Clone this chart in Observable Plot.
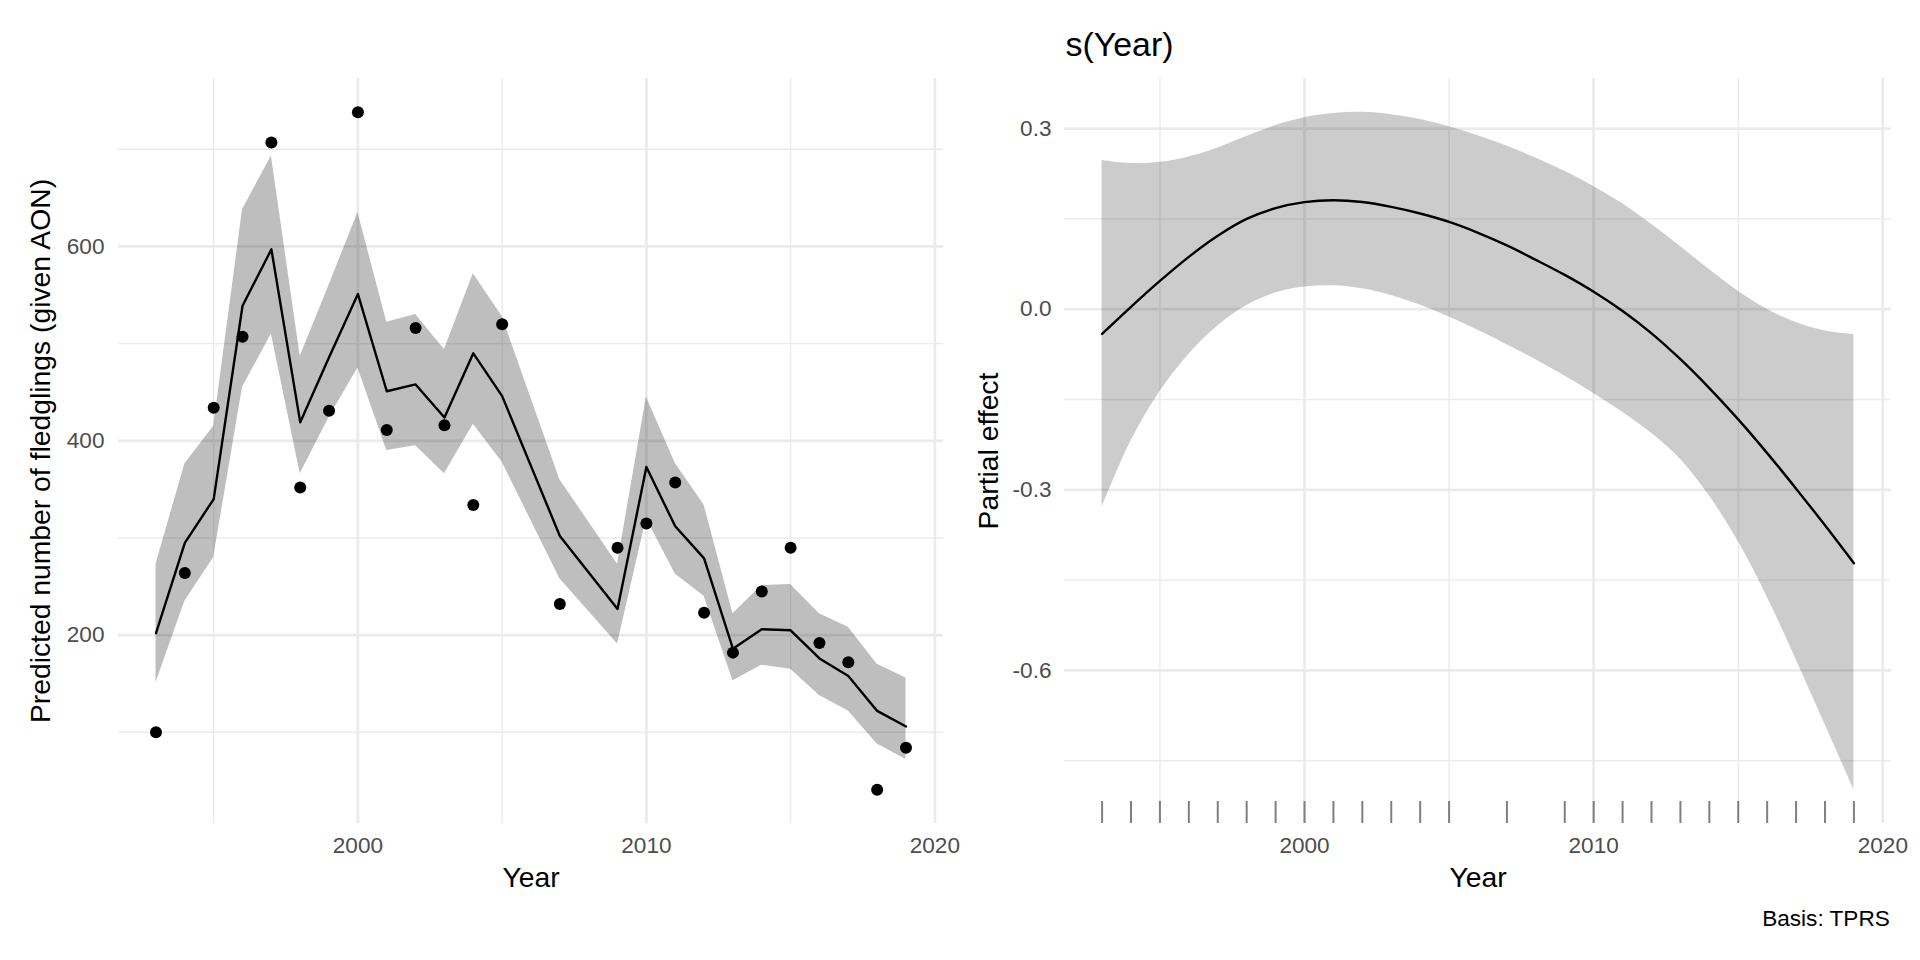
<!DOCTYPE html>
<html>
<head>
<meta charset="utf-8">
<script src="https://cdn.jsdelivr.net/npm/d3@7"></script>
<script src="https://cdn.jsdelivr.net/npm/@observablehq/plot@0.6"></script>
<style>
html, body { margin: 0; padding: 0; background: #ffffff; }
#chart { position: relative; width: 1920px; height: 960px; overflow: hidden; background: #ffffff; }
#chart svg { position: absolute; top: 0; }
</style>
</head>
<body>
<div id="chart"></div>
<script>
// ---------- Left panel: observed counts, fitted values and interval ----------
const years    = [1993, 1994, 1995, 1996, 1997, 1998, 1999, 2000, 2001, 2002, 2003, 2004, 2005, 2007, 2009, 2010, 2011, 2012, 2013, 2014, 2015, 2016, 2017, 2018, 2019];
const observed = [100, 264, 434, 507, 707, 352, 431, 738, 411, 516, 416, 334, 520, 232, 290, 315, 357, 223, 182, 245, 290, 192, 172, 41, 84];
const fitted   = [202, 295, 340, 539, 597, 419, 486, 551, 451, 458, 424, 490, 446, 302, 227, 373, 312, 279, 186, 206, 205, 176, 158, 122, 106];
const upper    = [273, 376, 415, 638, 693, 487, 560, 635, 522, 530, 494, 572, 528, 360, 273, 445, 377, 334, 222, 251, 252, 222, 208, 170, 156];
const lower    = [151, 235, 280, 455, 510, 366, 424, 475, 390, 395, 366, 417, 378, 258, 191, 320, 263, 240, 153, 169, 165, 138, 122, 88, 72];

// ---------- Right panel: smooth s(Year) partial effect ----------
const smoothYears = [1993, 1994, 1995, 1996, 1997, 1998, 1999, 2000, 2001, 2002, 2003, 2004, 2005, 2006, 2007, 2008, 2009, 2010, 2011, 2012, 2013, 2014, 2015, 2016, 2017, 2018, 2019];
const estimate    = [-0.041, 0.004, 0.047, 0.087, 0.122, 0.150, 0.168, 0.178, 0.181, 0.178, 0.170, 0.159, 0.145, 0.127, 0.106, 0.082, 0.057, 0.029, -0.003, -0.040, -0.083, -0.131, -0.183, -0.239, -0.298, -0.359, -0.422];
const upperCI     = [0.247, 0.242, 0.244, 0.253, 0.268, 0.287, 0.305, 0.318, 0.325, 0.327, 0.323, 0.315, 0.303, 0.288, 0.271, 0.251, 0.229, 0.204, 0.175, 0.141, 0.104, 0.066, 0.030, 0.000, -0.022, -0.036, -0.042];
const lowerCI     = [-0.329, -0.219, -0.137, -0.075, -0.028, 0.006, 0.027, 0.037, 0.039, 0.034, 0.023, 0.007, -0.013, -0.035, -0.059, -0.084, -0.111, -0.140, -0.171, -0.206, -0.249, -0.310, -0.386, -0.478, -0.582, -0.690, -0.798];

// ---------- Ticks and labels ----------
const xMajor = [2000, 2010, 2020];
const xMinor = [1995, 2005, 2015];
const leftMajorY = [200, 400, 600];
const leftMinorY = [100, 300, 500, 700];
const rightMajorY = [0.3, 0, -0.3, -0.6];
const rightMinorY = [0.15, -0.15, -0.45, -0.75];
const xTitle = "Year";
const leftYTitle = "Predicted number of fledglings (given AON)";
const rightYTitle = "Partial effect";
const rightTitle = "s(Year)";
const caption = "Basis: TPRS";

// ---------- Layout / style ----------
const FONT = '"Liberation Sans", Arial, Helvetica, sans-serif';
const GRID = "#EBEBEB";
const MARGIN_TOP = 78, MARGIN_BOTTOM = 137, SVG_H = 960;
const FRAME_H = SVG_H - MARGIN_TOP - MARGIN_BOTTOM;
const TICK_FONT = 22.6, AXIS_TITLE_FONT = 28.3, TITLE_FONT = 33.9;

function expand([lo, hi], f = 0.05) { const r = hi - lo; return [lo - f * r, hi + f * r]; }

const xDomain = expand(d3.extent(years));
const leftYDomain = expand([d3.min([...observed, ...lower]), d3.max([...observed, ...upper])]);
const rightYDomain = expand([d3.min(lowerCI), d3.max(upperCI)]);

const leftData = years.map((yr, i) => ({year: yr, obs: observed[i], fit: fitted[i], lo: lower[i], hi: upper[i]}));
const smoothData = smoothYears.map((yr, i) => ({year: yr, est: estimate[i], lo: lowerCI[i], hi: upperCI[i]}));

const baseStyle = {fontFamily: FONT, fontSize: TICK_FONT + "px", color: "#4D4D4D", background: "white", overflow: "visible"};

function gridMarks(majorY, minorY) {
  return [
    Plot.ruleY(minorY, {stroke: GRID, strokeWidth: 1.4}),
    Plot.ruleX(xMinor, {stroke: GRID, strokeWidth: 1.4}),
    Plot.ruleY(majorY, {stroke: GRID, strokeWidth: 2.7}),
    Plot.ruleX(xMajor, {stroke: GRID, strokeWidth: 2.7})
  ];
}

const left = Plot.plot({
  width: 960, height: SVG_H,
  marginLeft: 118, marginRight: 17, marginTop: MARGIN_TOP, marginBottom: MARGIN_BOTTOM,
  style: baseStyle,
  x: {domain: xDomain, ticks: xMajor, tickSize: 0, tickPadding: 13, tickFormat: d => String(d), label: null},
  y: {domain: leftYDomain, ticks: leftMajorY, tickSize: 0, tickPadding: 14, tickFormat: d => String(d), label: null},
  marks: [
    ...gridMarks(leftMajorY, leftMinorY),
    Plot.areaY(leftData, {x: "year", y1: "lo", y2: "hi", fill: "black", fillOpacity: 0.255}),
    Plot.line(leftData, {x: "year", y: "fit", stroke: "black", strokeWidth: 2.4}),
    Plot.dot(leftData, {x: "year", y: "obs", r: 6, fill: "black"}),
    Plot.text([xTitle], {text: d => d, frameAnchor: "bottom", lineAnchor: "bottom", dy: 63.7, fontSize: AXIS_TITLE_FONT, fill: "black"}),
    Plot.text([leftYTitle], {text: d => d, frameAnchor: "left", textAnchor: "middle", rotate: -90, lineAnchor: "bottom", dx: -69, fontSize: AXIS_TITLE_FONT, fill: "black"})
  ]
});

const right = Plot.plot({
  width: 960, height: SVG_H,
  marginLeft: 104, marginRight: 29, marginTop: MARGIN_TOP, marginBottom: MARGIN_BOTTOM,
  style: baseStyle,
  x: {domain: xDomain, ticks: xMajor, tickSize: 0, tickPadding: 13, tickFormat: d => String(d), label: null},
  y: {domain: rightYDomain, ticks: rightMajorY, tickSize: 0, tickPadding: 13, tickFormat: d => d.toFixed(1), label: null},
  marks: [
    ...gridMarks(rightMajorY, rightMinorY),
    Plot.areaY(smoothData, {x: "year", y1: "lo", y2: "hi", fill: "black", fillOpacity: 0.2, curve: "catmull-rom"}),
    Plot.line(smoothData, {x: "year", y: "est", stroke: "black", strokeWidth: 2.4, curve: "catmull-rom"}),
    Plot.tickX(years, {x: d => d, stroke: "#7F7F7F", strokeWidth: 2, insetTop: FRAME_H - 22}),
    Plot.text([xTitle], {text: d => d, frameAnchor: "bottom", lineAnchor: "bottom", dy: 63.7, fontSize: AXIS_TITLE_FONT, fill: "black"}),
    Plot.text([rightYTitle], {text: d => d, frameAnchor: "left", textAnchor: "middle", rotate: -90, lineAnchor: "bottom", dx: -67, fontSize: AXIS_TITLE_FONT, fill: "black"}),
    Plot.text([rightTitle], {text: d => d, frameAnchor: "top-left", textAnchor: "start", lineAnchor: "bottom", dx: 1, dy: -23, fontSize: TITLE_FONT, fill: "black"}),
    Plot.text([caption], {text: d => d, frameAnchor: "bottom-right", textAnchor: "end", lineAnchor: "bottom", dx: -1.7, dy: 102.7, fontSize: TICK_FONT, fill: "black"})
  ]
});

const chart = document.getElementById("chart");
left.style.left = "0px";
right.style.left = "960px";
chart.appendChild(left);
chart.appendChild(right);
</script>
</body>
</html>
